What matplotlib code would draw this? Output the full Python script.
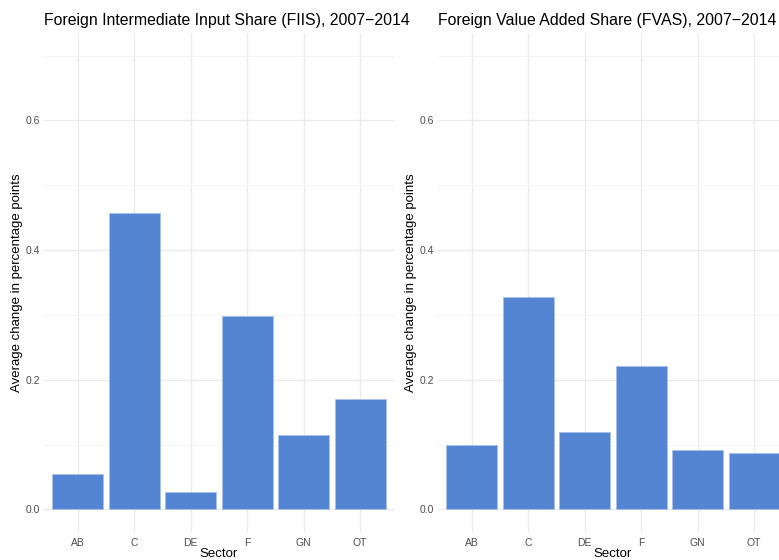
import matplotlib
matplotlib.use("Agg")
import matplotlib.pyplot as plt
from matplotlib.ticker import MultipleLocator

plt.rcParams['font.family'] = ['Liberation Sans', 'DejaVu Sans']

sectors = ["AB", "C", "DE", "F", "GN", "OT"]
fiis_change = [0.055, 0.457, 0.027, 0.298, 0.114, 0.170]
fvas_change = [0.100, 0.327, 0.119, 0.221, 0.092, 0.087]

titles = ["Foreign Intermediate Input Share (FIIS), 2007\u22122014",
          "Foreign Value Added Share (FVAS), 2007\u22122014"]
ylabel = "Average change in percentage points"
xlabel = "Sector"

bar_color = "#5485D3"
grid_major = "#EBEBEB"
grid_minor = "#F3F3F3"
tick_color = "#4D4D4D"

fig = plt.figure(figsize=(7.79, 5.60), dpi=100)
W, H = 779, 560

def add_panel(left_px, values, title):
    ax = fig.add_axes([left_px / W, 28 / H, 350 / W, 499 / H])
    x = list(range(1, len(sectors) + 1))
    ax.bar(x, values, width=0.9, color=bar_color, edgecolor="#A9C1EA",
           linewidth=0.6, zorder=3)
    ax.set_xlim(0.4, len(sectors) + 0.6)
    ax.set_ylim(-0.035, 0.735)
    ax.set_xticks(x)
    ax.set_xticklabels(sectors)
    ax.yaxis.set_major_locator(MultipleLocator(0.2))
    ax.yaxis.set_minor_locator(MultipleLocator(0.1))
    ax.set_yticks([0.0, 0.2, 0.4, 0.6])
    ax.set_yticklabels(["0.0", "0.2", "0.4", "0.6"])
    ax.grid(which="major", color=grid_major, linewidth=1.0, zorder=0)
    ax.grid(which="minor", axis="y", color=grid_minor, linewidth=0.6, zorder=0)
    for s in ax.spines.values():
        s.set_visible(False)
    ax.tick_params(which="both", length=0, labelsize=7.5, labelcolor=tick_color,
                   pad=3)
    ax.tick_params(axis="x", pad=4)
    ax.set_xlabel(xlabel, fontsize=9.5, color="black", labelpad=0)
    ax.set_ylabel(ylabel, fontsize=9.5, color="black", labelpad=2)
    ax.set_title(title, fontsize=11.4, loc="left", pad=6, color="black")
    ax.set_facecolor("white")
    return ax

add_panel(44, fiis_change, titles[0])
add_panel(438, fvas_change, titles[1])

fig.savefig("out.png", dpi=100, facecolor="white")
